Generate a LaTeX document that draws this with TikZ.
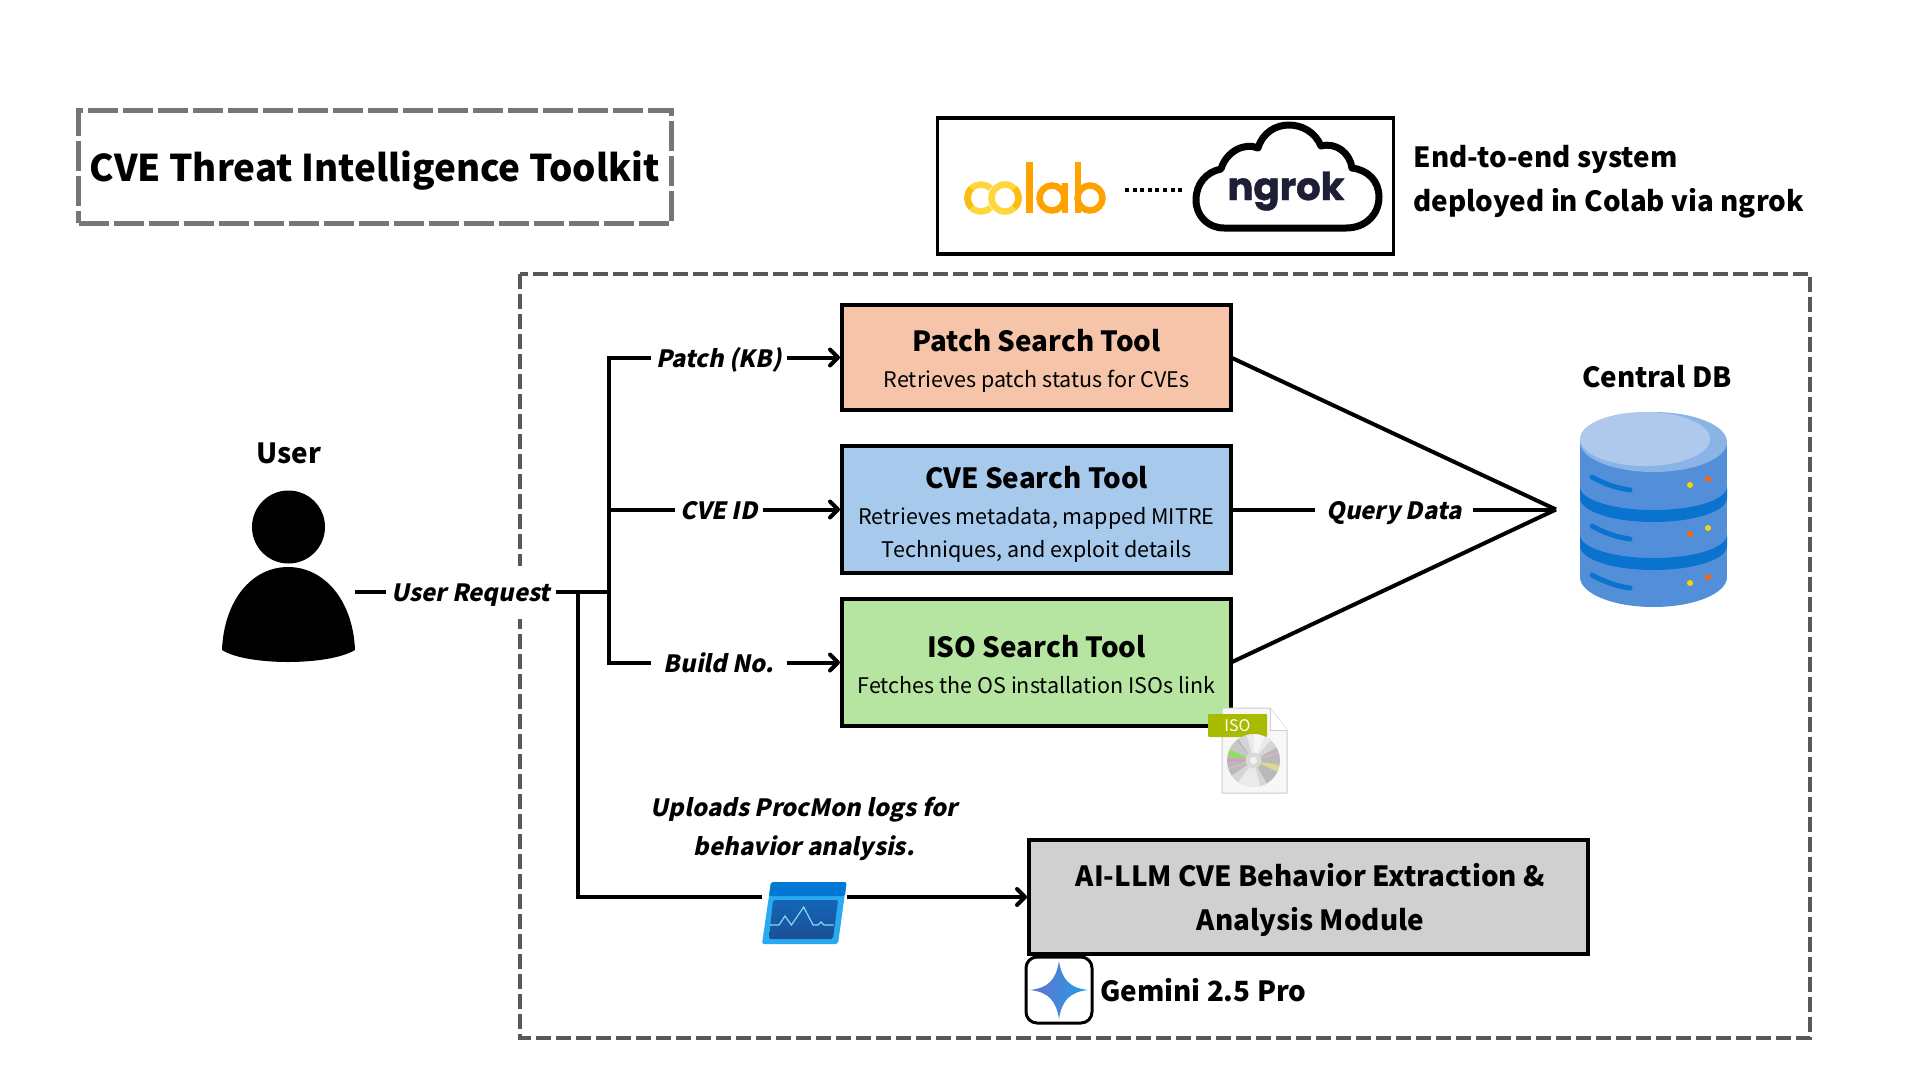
\documentclass[tikz,border=0pt]{standalone}
\usepackage{fontspec}
\setmainfont{Noto Sans CJK SC}
\newfontfamily\slantfont{Noto Sans CJK SC}[FakeSlant=0.2]
\newfontfamily\logofont{Poppins}[FakeBold=1.2]
\usetikzlibrary{arrows.meta}
\usetikzlibrary{positioning}
\definecolor{patchfill}{HTML}{F5C4A9}
\definecolor{cvefill}{HTML}{A6C9EC}
\definecolor{isofill}{HTML}{B5E5A0}
\definecolor{llmfill}{HTML}{D0D0D0}
\definecolor{dashgray}{HTML}{595959}
\definecolor{titlegray}{HTML}{767676}
\definecolor{dbbody}{HTML}{528FD8}
\definecolor{dbtop}{HTML}{8AB3E6}
\definecolor{dblight}{HTML}{AEC9EC}
\definecolor{dbband}{HTML}{0A73CF}
\definecolor{colabA}{HTML}{FFD63B}
\definecolor{colabB}{HTML}{FBBC12}
\definecolor{colabC}{HTML}{FFA200}
\definecolor{ngrokink}{HTML}{1F1E37}
\definecolor{starA}{HTML}{6A6FCE}
\definecolor{starB}{HTML}{1E9FE8}
\tikzset{
  headbig/.style={font=\fontsize{36.8}{36.8}\selectfont\bfseries},
  headtool/.style={font=\fontsize{27.8}{27.8}\selectfont\bfseries},
  headside/.style={font=\fontsize{27.8}{27.8}\selectfont\bfseries},
  desctext/.style={font=\fontsize{21.5}{21.5}\selectfont},
  edgelabel/.style={font=\fontsize{23.8}{39}\selectfont\bfseries\slantfont, fill=white, inner sep=5pt, text height=21.5pt, text depth=2.4pt},
  uploadlabel/.style={font=\fontsize{23.8}{39}\selectfont\bfseries\slantfont, align=center},
  toolbox/.style={draw, line width=4.5pt, minimum width=389pt, outer sep=0pt},
  conn/.style={line width=4pt},
  arrowconn/.style={line width=4pt, -{Straight Barb[length=8pt,width=16pt,line width=4pt,round]}, shorten >=2pt},
  dashbox/.style={draw=dashgray, line width=4pt, dash pattern=on 15pt off 5pt},
}
\begin{document}
\begin{tikzpicture}[x=1pt,y=-1pt]
  \useasboundingbox (0,0) rectangle (1920,1080);
  \fill[white] (0,0) rectangle (1920,1080);

  % Title
  \node[draw=titlegray, line width=5pt, dash pattern=on 30pt off 5pt, minimum width=593pt, minimum height=113pt, outer sep=0pt] (title) at (375,166.5) {};
  \node[headbig] (titletext) at (375,171) {CVE Threat Intelligence Toolkit};

  % Deployment box
  \node[draw, line width=3.5pt, minimum width=456pt, minimum height=136pt] (deploy) at (1165.5,186) {};
  \node[anchor=west, align=left, font=\fontsize{27.8}{44}\selectfont\bfseries] (deploytext) at (1410,182) {End-to-end system\\deployed in Colab via ngrok};

  % colab logo
  \draw[colabA, line width=6.5pt] (981,198) ++(45:13.5pt) arc[start angle=45,end angle=315,radius=13.5pt];
  \draw[colabA, line width=6.5pt] (1005,198) circle[radius=13.5pt];
  \draw[colabB, line width=6.5pt] (981,198) ++(135:13.5pt) arc[start angle=135,end angle=225,radius=13.5pt];
  \draw[colabB, line width=6.5pt] (1005,198) ++(-45:13.5pt) arc[start angle=-45,end angle=45,radius=13.5pt];
  \draw[colabC, line width=6.5pt] (1029.5,162) -- (1029.5,213);
  \draw[colabC, line width=6.5pt] (1052,198) circle[radius=12.5pt];
  \draw[colabC, line width=6.5pt] (1065,183) -- (1065,213);
  \draw[colabC, line width=6.5pt] (1090,198) circle[radius=12.5pt];
  \draw[colabC, line width=6.5pt] (1078,162) -- (1078,213);
  \draw[line width=4.5pt, dash pattern=on 4pt off 3.6pt] (1125,190) -- (1182,190);

  % ngrok cloud
  \draw[line width=7pt, line join=round] (1224,228) -- (1346,228)
    .. controls (1366,228) and (1379,214) .. (1379,197)
    .. controls (1379,181) and (1368,170) .. (1352,168)
    .. controls (1350,153) and (1336,142) .. (1321,146)
    .. controls (1315,132) and (1302,125) .. (1289,125)
    .. controls (1276,125) and (1263,132) .. (1258,148)
    .. controls (1244,142) and (1226,152) .. (1221,169)
    .. controls (1206,172) and (1196,184) .. (1196,200)
    .. controls (1196,216) and (1208,228) .. (1224,228) -- cycle;
  \node[font=\fontsize{38.5}{38.5}\selectfont\bfseries\logofont, text=ngrokink, anchor=base, inner sep=0pt] (ngroktext) at (1286,200) {ngrok};

  % Outer system box
  \draw[dashbox] (520,274) rectangle (1810,1038);

  % User
  \node[headside] (usertext) at (289,453) {User};
  \fill (288.5,527) circle[radius=36.5pt];
  \fill (222,650) .. controls (224,600) and (252,567) .. (288,567)
    .. controls (324,567) and (353,600) .. (355,650)
    .. controls (340,659) and (310,662) .. (288,662)
    .. controls (266,662) and (236,659) .. (222,650) -- cycle;
  \coordinate (userout) at (355,592);
  \node[edgelabel, minimum height=53pt] (request) at (471,592) {User Request};

  % Tools
  \node[toolbox, fill=patchfill, minimum height=105pt] (patch) at (1036.5,357.5) {};
  \node[headtool] (patchhead) at (1036.5,341) {Patch Search Tool};
  \node[desctext] (patchdesc) at (1036.5,381) {Retrieves patch status for CVEs};

  \node[toolbox, fill=cvefill, minimum height=127pt] (cve) at (1036.5,509.5) {};
  \node[headtool] (cvehead) at (1036.5,478) {CVE Search Tool};
  \node[desctext] (cvedesc1) at (1036.5,518) {Retrieves metadata, mapped MITRE};
  \node[desctext] (cvedesc2) at (1036.5,551) {Techniques, and exploit details};

  \node[toolbox, fill=isofill, minimum height=127pt] (iso) at (1036.5,662.5) {};
  \node[headtool] (isohead) at (1036.5,647) {ISO Search Tool};
  \node[desctext] (isodesc) at (1036.5,685) {Fetches the OS installation ISOs link};

  % Branch labels
  \coordinate (rootA) at (609,592);
  \coordinate (rootB) at (578,592);
  \node[edgelabel, minimum width=135pt] (patchlabel) at (719,357.5) {Patch (KB)};
  \node[edgelabel] (cvelabel) at (719,509.5) {CVE ID};
  \node[edgelabel, minimum width=135pt] (buildlabel) at (719,662.5) {Build No.};

  % Connectors
  \draw[conn] (userout) -- (request);
  \draw[conn] (request) -- (rootA);
  \draw[conn] (rootA) |- (patchlabel);
  \draw[conn] (rootA) |- (cvelabel);
  \draw[conn] (rootA) |- (buildlabel);
  \draw[arrowconn] (patchlabel) -- (patch);
  \draw[arrowconn] (cvelabel) -- (cve);
  \draw[arrowconn] (buildlabel) -- (iso);

  % Central DB
  \coordinate (dbtip) at (1556,509.5);
  \node[edgelabel, inner sep=11pt] (querylabel) at (1394,509.5) {Query Data};
  \draw[conn] (patch.east) -- (dbtip);
  \draw[conn] (iso.east) -- (dbtip);
  \draw[conn] (cve.east) -- (querylabel);
  \draw[conn] (querylabel) -- (dbtip);

  \node[headside] (dbtext) at (1657,377) {Central DB};
  \fill[dbbody] (1580,442) rectangle (1727,577);
  \fill[dbbody] (1653.5,577) ellipse[x radius=73.5pt,y radius=30pt];
  \fill[dbtop] (1653.5,442) ellipse[x radius=73.5pt,y radius=30pt];
  \fill[dblight] (1645,439) ellipse[x radius=65pt,y radius=27pt];
  \foreach \dy in {0,48} {
    \fill[dbband] (1580,487+\dy) arc[start angle=180,end angle=360,x radius=73.5pt,y radius=23pt]
      -- (1727,498+\dy) arc[start angle=0,end angle=-180,x radius=73.5pt,y radius=24pt] -- cycle;
  }
  \foreach \dy in {0,49,98} {
    \draw[dbband, line width=5pt, line cap=round] (1592,477+\dy) .. controls (1603,483+\dy) and (1615,488+\dy) .. (1630,490+\dy);
  }
  \fill[yellow!70!orange] (1690,485) circle[radius=3pt];
  \fill[orange!80!red] (1708,479) circle[radius=3pt];
  \fill[orange!80!red] (1690,534) circle[radius=3pt];
  \fill[yellow!70!orange] (1708,528) circle[radius=3pt];
  \fill[yellow!70!orange] (1690,583) circle[radius=3pt];
  \fill[orange!80!red] (1708,577) circle[radius=3pt];

  % ISO icon
  \fill[gray!6] (1222,708) -- (1270,708) -- (1287,730) -- (1287,793) -- (1222,793) -- cycle;
  \draw[gray!40, line width=1pt] (1222,708) -- (1270,708) -- (1287,730) -- (1287,793) -- (1222,793) -- cycle;
  \fill[white] (1270,708) -- (1270,730) -- (1287,730) -- cycle;
  \draw[gray!40, line width=1pt] (1270,708) -- (1270,730) -- (1287,730);
  \node[fill={rgb,255:red,169;green,187;blue,0}, text=white, rounded corners=1pt, minimum width=59pt, minimum height=23pt, inner sep=0pt, font=\fontsize{16}{16}\selectfont] (isotag) at (1237.5,725.5) {ISO};
  \coordinate (disc) at (1253.5,760.5);
  \fill[gray!55] (disc) circle[radius=26.5pt];
  \foreach \from/\to/\op in {30/125/.4, 50/105/.5, 65/90/.6, 215/300/.4, 235/285/.5, 130/175/.2} {
    \fill[white, opacity=\op] (disc) -- +(\from:26.5pt) arc[start angle=\from,end angle=\to,radius=26.5pt] -- cycle;
  }
  \fill[green!70!yellow, opacity=.5] (disc) -- +(155:26pt) arc[start angle=155,end angle=170,radius=26pt] -- cycle;
  \fill[magenta!60, opacity=.3] (disc) -- +(170:26pt) arc[start angle=170,end angle=182,radius=26pt] -- cycle;
  \fill[yellow!60!white, opacity=.5] (disc) -- +(-25:26pt) arc[start angle=-25,end angle=-10,radius=26pt] -- cycle;
  \draw[magenta!30, line width=.7pt] (disc) -- +(18:27pt);
  \draw[magenta!30, line width=.7pt] (disc) -- +(198:27pt);
  \fill[gray!30] (disc) circle[radius=8pt];
  \fill[gray!10] (disc) circle[radius=3.5pt];

  % Log upload
  \node[uploadlabel] (uploadtext) at (804,829) {Uploads ProcMon logs for\\behavior analysis.};
  \coordinate (logsin) at (762,897);
  \coordinate (logsout) at (847,897);
  \node[toolbox, fill=llmfill, minimum width=559pt, minimum height=114pt] (llm) at (1308.5,897) {};
  \node[align=center, font=\fontsize{27.8}{44}\selectfont\bfseries] (llmtext) at (1310.5,900) {AI-LLM CVE Behavior Extraction \&\\Analysis Module};
  \draw[conn] (rootB) |- (logsin);
  \draw[arrowconn] (logsout) -- (llm);
  \fill[fill={rgb,255:red,41;green,170;blue,240}, rounded corners=2pt] (771,882) -- (846.5,882) -- (838,944) -- (762,944) -- cycle;
  \fill[fill={rgb,255:red,0;green,120;blue,212}, rounded corners=2pt] (771,882) -- (846.5,882) -- (845,896) -- (769,896) -- cycle;
  \shade[top color={rgb,255:red,21;green,101;blue,184}, bottom color={rgb,255:red,27;green,79;blue,149}, rounded corners=2pt] (773,900) -- (838,900) -- (833,939) -- (769,939) -- cycle;
  \draw[line width=1.2pt, color={rgb,255:red,127;green,220;blue,245}] (770,925) -- (779,925) -- (785,916) -- (791.4,925) -- (803.7,907) -- (813,925) -- (818,925) -- (821,922) -- (824,925) -- (833.5,925);

  % Gemini
  \node[draw, line width=3pt, rounded corners=11pt, minimum width=66pt, minimum height=66pt] (gemini) at (1059,990) {};
  \shade[left color=starA, right color=starB] (1059,961) .. controls (1062,980) and (1070,988) .. (1088,990)
    .. controls (1070,992) and (1062,1000) .. (1059,1019)
    .. controls (1056,1000) and (1048,992) .. (1030,990)
    .. controls (1048,988) and (1056,980) .. (1059,961) -- cycle;
  \node[headside, anchor=west, inner sep=0pt] (geminitext) at (1100,990) {Gemini 2.5 Pro};
\end{tikzpicture}
\end{document}
